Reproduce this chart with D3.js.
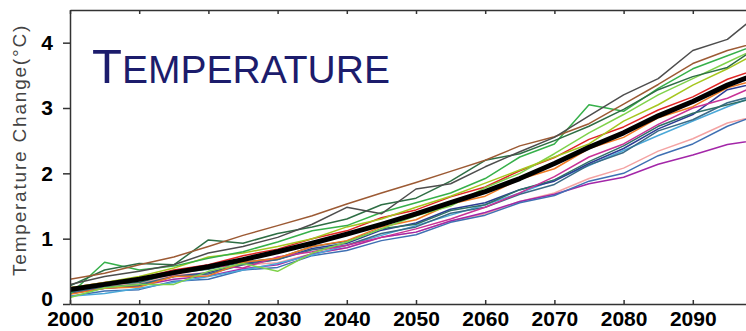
<!DOCTYPE html>
<html>
<head>
<meta charset="utf-8">
<script src="https://cdn.jsdelivr.net/npm/d3@7"></script>
<style>
  html, body { margin: 0; padding: 0; background: #fff; }
  svg { display: block; }
</style>
</head>
<body>
<div id="chart"></div>
<script>
// Years sampled every 5 years
const years = [2000, 2005, 2010, 2015, 2020, 2025, 2030, 2035, 2040, 2045, 2050,
               2055, 2060, 2065, 2070, 2075, 2080, 2085, 2090, 2095, 2100];

// Ensemble mean (thick black line)
const meanChange = [0.22, 0.30, 0.38, 0.48, 0.57, 0.68, 0.80, 0.93, 1.07, 1.22, 1.38,
                    1.55, 1.72, 1.92, 2.15, 2.40, 2.62, 2.88, 3.10, 3.35, 3.55];

// Individual model runs
const brownRun   = [0.38, 0.47, 0.60, 0.72, 0.88, 1.05, 1.20, 1.35, 1.53, 1.70, 1.86, 2.03, 2.20, 2.42, 2.56, 2.76, 3.06, 3.36, 3.68, 3.88, 4.02];
const grayRun    = [0.30, 0.42, 0.50, 0.60, 0.78, 0.88, 1.02, 1.22, 1.48, 1.38, 1.76, 1.84, 2.10, 2.33, 2.55, 2.88, 3.20, 3.45, 3.88, 4.05, 4.48];
const dkGreenRun = [0.28, 0.52, 0.62, 0.60, 0.98, 0.93, 1.08, 1.18, 1.30, 1.52, 1.62, 1.88, 2.20, 2.30, 2.50, 2.72, 2.98, 3.28, 3.48, 3.62, 3.98];
const greenRun   = [0.15, 0.64, 0.52, 0.58, 0.70, 0.80, 0.95, 1.12, 1.20, 1.40, 1.55, 1.70, 1.92, 2.25, 2.45, 3.05, 2.95, 3.30, 3.60, 3.80, 4.00];
const ltGreenRun = [0.10, 0.25, 0.30, 0.30, 0.50, 0.62, 0.50, 0.78, 0.95, 1.15, 1.35, 1.50, 1.78, 2.00, 2.30, 2.62, 2.90, 3.20, 3.45, 3.70, 3.95];
const limeRun    = [0.25, 0.33, 0.42, 0.55, 0.72, 0.78, 0.88, 1.00, 1.18, 1.30, 1.48, 1.65, 1.85, 2.05, 2.25, 2.45, 2.80, 3.05, 3.35, 3.60, 3.88];
const tealRun    = [0.20, 0.30, 0.33, 0.47, 0.53, 0.64, 0.70, 0.88, 0.96, 1.15, 1.22, 1.43, 1.52, 1.75, 1.90, 2.18, 2.42, 2.72, 2.92, 3.05, 3.18];
const slateRun   = [0.18, 0.26, 0.30, 0.42, 0.46, 0.60, 0.68, 0.83, 0.90, 1.08, 1.18, 1.39, 1.48, 1.68, 1.83, 2.13, 2.32, 2.65, 2.82, 3.08, 3.22];
const redRun     = [0.25, 0.33, 0.39, 0.52, 0.60, 0.74, 0.84, 1.00, 1.12, 1.32, 1.44, 1.64, 1.79, 2.04, 2.24, 2.52, 2.71, 2.97, 3.17, 3.44, 3.62];
const orangeRun  = [0.15, 0.24, 0.26, 0.42, 0.43, 0.64, 0.70, 0.88, 0.97, 1.18, 1.29, 1.53, 1.65, 1.91, 2.07, 2.38, 2.55, 2.85, 3.02, 3.31, 3.45];
const pinkRun    = [0.20, 0.27, 0.31, 0.44, 0.48, 0.60, 0.63, 0.77, 0.86, 1.02, 1.10, 1.27, 1.38, 1.57, 1.70, 1.92, 2.08, 2.34, 2.53, 2.77, 2.90];
const magentaRun = [0.22, 0.30, 0.38, 0.45, 0.60, 0.55, 0.72, 0.80, 0.90, 1.02, 1.15, 1.30, 1.48, 1.70, 1.95, 2.25, 2.45, 2.75, 3.00, 3.15, 3.38];
const purpleRun  = [0.18, 0.24, 0.28, 0.38, 0.43, 0.54, 0.60, 0.77, 0.86, 1.02, 1.10, 1.27, 1.40, 1.57, 1.68, 1.84, 1.94, 2.14, 2.28, 2.44, 2.52];
const blueRun    = [0.12, 0.20, 0.22, 0.35, 0.38, 0.52, 0.56, 0.74, 0.82, 0.97, 1.06, 1.25, 1.36, 1.55, 1.66, 1.88, 2.00, 2.27, 2.45, 2.72, 2.92];
const navyRun    = [0.16, 0.24, 0.28, 0.42, 0.48, 0.62, 0.68, 0.85, 0.93, 1.13, 1.24, 1.45, 1.55, 1.75, 1.88, 2.15, 2.38, 2.68, 2.90, 3.28, 3.40];
const ltBlueRun  = [0.12, 0.16, 0.24, 0.33, 0.42, 0.52, 0.62, 0.75, 0.90, 1.05, 1.20, 1.36, 1.52, 1.70, 1.90, 2.12, 2.35, 2.58, 2.80, 3.02, 3.22];

const xTicks = [2000, 2010, 2020, 2030, 2040, 2050, 2060, 2070, 2080, 2090];
const yTicks = [0, 1, 2, 3, 4];

const models = [
    { color: '#f4a3a3', values: pinkRun },
    { color: '#a326a8', values: purpleRun },
    { color: '#3f70b3', values: blueRun },
    { color: '#4aa8d8', values: ltBlueRun },
    { color: '#2c3c94', values: navyRun },
    { color: '#3a6a86', values: slateRun },
    { color: '#2f6f68', values: tealRun },
    { color: '#c83296', values: magentaRun },
    { color: '#f07a22', values: orangeRun },
    { color: '#e02424', values: redRun },
    { color: '#7fd24a', values: ltGreenRun },
    { color: '#a6c61e', values: limeRun },
    { color: '#36b04a', values: greenRun },
    { color: '#2e6e44', values: dkGreenRun },
    { color: '#9c5a34', values: brownRun },
    { color: '#4d4d4d', values: grayRun }
];

const width = 746, height = 331;

const svg = d3.select('#chart').append('svg')
    .attr('width', width)
    .attr('height', height);

svg.append('rect').attr('width', width).attr('height', height).attr('fill', '#fff');

const x = d3.scaleLinear().domain([2000, 2100]).range([70, 762]);
const y = d3.scaleLinear().domain([0, 4.5]).range([304, 10]);

// Clip the runs to the plot frame
svg.append('clipPath').attr('id', 'plot-clip')
  .append('rect')
    .attr('x', x(2000)).attr('y', y(4.5))
    .attr('width', x(2100) - x(2000)).attr('height', y(0) - y(4.5));

const line = d3.line()
    .x((d, i) => x(years[i]))
    .y(d => y(d));

const runs = svg.append('g').attr('clip-path', 'url(#plot-clip)');

runs.selectAll('path.run')
    .data(models)
  .enter()
  .append('path')
    .attr('class', 'run')
    .attr('d', d => line(d.values))
    .attr('fill', 'none')
    .attr('stroke', d => d.color)
    .attr('stroke-width', 1.5)
    .attr('stroke-linejoin', 'round');

runs.append('path')
    .attr('d', line(meanChange))
    .attr('fill', 'none')
    .attr('stroke', '#000')
    .attr('stroke-width', 5)
    .attr('stroke-linejoin', 'round');

// Axes
const tickFont = (g) => g.selectAll('text')
    .attr('fill', '#000')
    .style('font-family', '"Liberation Sans", Arial, sans-serif')
    .style('font-weight', 'bold')
    .style('font-size', '21px');

const styleLines = (g) => {
    g.selectAll('.domain').attr('stroke', '#333').attr('stroke-width', 1.5);
    g.selectAll('.tick line').attr('stroke', '#333').attr('stroke-width', 1.5);
};

svg.append('g')
    .attr('transform', `translate(0,${y(0)})`)
    .call(d3.axisBottom(x).tickValues(xTicks).tickFormat(d3.format('d'))
        .tickSizeInner(-4).tickSizeOuter(0).tickPadding(7))
    .call(styleLines)
    .call(tickFont);

svg.append('g')
    .attr('transform', `translate(0,${y(4.5)})`)
    .call(d3.axisTop(x).tickValues(xTicks).tickFormat('')
        .tickSizeInner(-4).tickSizeOuter(0))
    .call(styleLines);

const yAxis = svg.append('g')
    .attr('transform', `translate(${x(2000)},0)`)
    .call(d3.axisLeft(y).tickValues(yTicks).tickFormat(d3.format('d'))
        .tickSizeInner(7).tickSizeOuter(0).tickPadding(10))
    .call(styleLines)
    .call(tickFont);

// the zero label sits a little higher so it clears the 2000 label
yAxis.selectAll('.tick').filter(d => d === 0).select('text').attr('dy', '0.05em');

// Axis title
svg.append('text')
    .attr('transform', `translate(26,${150}) rotate(-90)`)
    .attr('text-anchor', 'middle')
    .attr('fill', '#444')
    .style('font-family', '"Liberation Sans", Arial, sans-serif')
    .style('font-size', '19px')
    .style('letter-spacing', '1.8px')
    .text('Temperature Change(°C)');

// Panel title in small caps
const title = svg.append('text')
    .attr('x', 92)
    .attr('y', 83)
    .attr('fill', '#1c1c6c')
    .style('font-family', '"Liberation Sans", Arial, sans-serif');
title.append('tspan').style('font-size', '49px').text('T');
title.append('tspan').style('font-size', '39px').text('EMPERATURE');
</script>
</body>
</html>
